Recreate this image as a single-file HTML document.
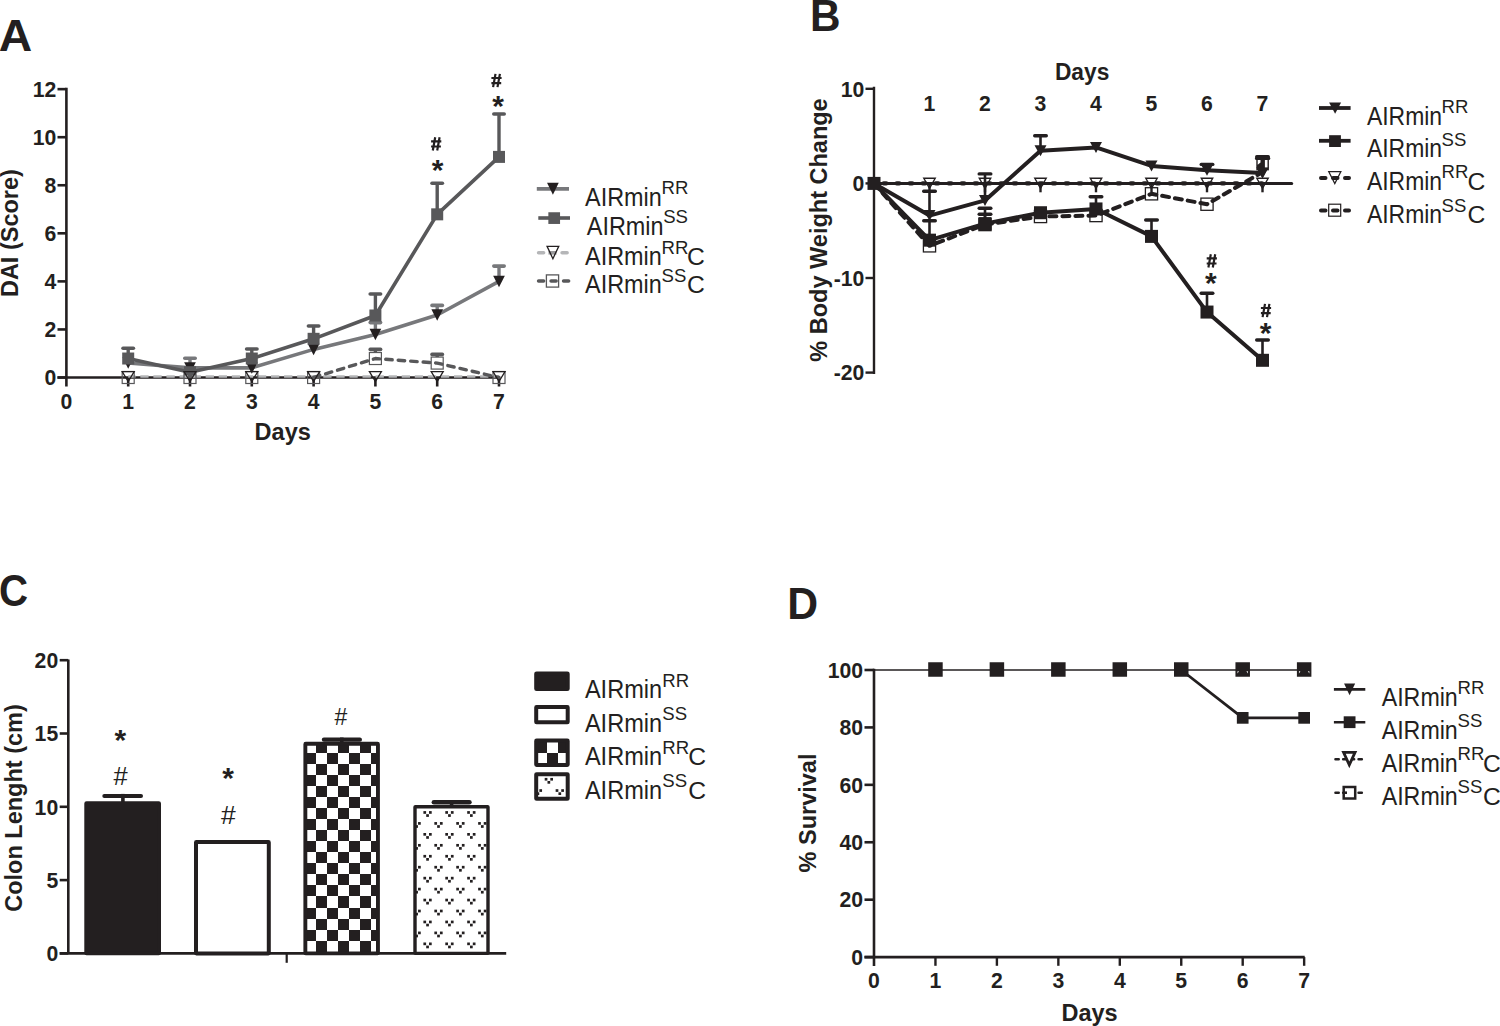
<!DOCTYPE html><html><head><meta charset="utf-8"><style>html,body{margin:0;padding:0;background:#fff;}svg{display:block;}text{font-family:"Liberation Sans",sans-serif;}</style></head><body>
<svg width="1500" height="1026" viewBox="0 0 1500 1026" font-family="Liberation Sans">
<rect width="1500" height="1026" fill="#fff"/>
<text transform="translate(-1.15,50.80) scale(1.03,1)" font-size="45" font-weight="bold" fill="#231f20">A</text>
<text transform="translate(810.05,30.80) scale(0.94,1)" font-size="45" font-weight="bold" fill="#231f20">B</text>
<text transform="translate(-1.10,606.35) scale(0.895,1)" font-size="45" font-weight="bold" fill="#231f20">C</text>
<text transform="translate(787.20,619.00) scale(0.95,1)" font-size="45" font-weight="bold" fill="#231f20">D</text>
<line x1="66.40" y1="87.80" x2="66.40" y2="386.50" stroke="#231f20" stroke-width="2.6" />
<line x1="57.50" y1="377.50" x2="66.40" y2="377.50" stroke="#231f20" stroke-width="2.6" />
<text x="56.30" y="385.20" font-size="21.2" font-weight="bold" text-anchor="end" fill="#231f20" >0</text>
<line x1="57.50" y1="329.44" x2="66.40" y2="329.44" stroke="#231f20" stroke-width="2.6" />
<text x="56.30" y="337.14" font-size="21.2" font-weight="bold" text-anchor="end" fill="#231f20" >2</text>
<line x1="57.50" y1="281.38" x2="66.40" y2="281.38" stroke="#231f20" stroke-width="2.6" />
<text x="56.30" y="289.08" font-size="21.2" font-weight="bold" text-anchor="end" fill="#231f20" >4</text>
<line x1="57.50" y1="233.32" x2="66.40" y2="233.32" stroke="#231f20" stroke-width="2.6" />
<text x="56.30" y="241.02" font-size="21.2" font-weight="bold" text-anchor="end" fill="#231f20" >6</text>
<line x1="57.50" y1="185.26" x2="66.40" y2="185.26" stroke="#231f20" stroke-width="2.6" />
<text x="56.30" y="192.96" font-size="21.2" font-weight="bold" text-anchor="end" fill="#231f20" >8</text>
<line x1="57.50" y1="137.20" x2="66.40" y2="137.20" stroke="#231f20" stroke-width="2.6" />
<text x="56.30" y="144.90" font-size="21.2" font-weight="bold" text-anchor="end" fill="#231f20" >10</text>
<line x1="57.50" y1="89.14" x2="66.40" y2="89.14" stroke="#231f20" stroke-width="2.6" />
<text x="56.30" y="96.84" font-size="21.2" font-weight="bold" text-anchor="end" fill="#231f20" >12</text>
<line x1="57.50" y1="377.50" x2="500.00" y2="377.50" stroke="#231f20" stroke-width="2.6" />
<line x1="128.20" y1="377.50" x2="128.20" y2="386.50" stroke="#231f20" stroke-width="2.6" />
<line x1="190.00" y1="377.50" x2="190.00" y2="386.50" stroke="#231f20" stroke-width="2.6" />
<line x1="251.80" y1="377.50" x2="251.80" y2="386.50" stroke="#231f20" stroke-width="2.6" />
<line x1="313.60" y1="377.50" x2="313.60" y2="386.50" stroke="#231f20" stroke-width="2.6" />
<line x1="375.40" y1="377.50" x2="375.40" y2="386.50" stroke="#231f20" stroke-width="2.6" />
<line x1="437.20" y1="377.50" x2="437.20" y2="386.50" stroke="#231f20" stroke-width="2.6" />
<line x1="499.00" y1="377.50" x2="499.00" y2="386.50" stroke="#231f20" stroke-width="2.6" />
<text x="66.40" y="409.00" font-size="21.2" font-weight="bold" text-anchor="middle" fill="#231f20" >0</text>
<text x="128.20" y="409.00" font-size="21.2" font-weight="bold" text-anchor="middle" fill="#231f20" >1</text>
<text x="190.00" y="409.00" font-size="21.2" font-weight="bold" text-anchor="middle" fill="#231f20" >2</text>
<text x="251.80" y="409.00" font-size="21.2" font-weight="bold" text-anchor="middle" fill="#231f20" >3</text>
<text x="313.60" y="409.00" font-size="21.2" font-weight="bold" text-anchor="middle" fill="#231f20" >4</text>
<text x="375.40" y="409.00" font-size="21.2" font-weight="bold" text-anchor="middle" fill="#231f20" >5</text>
<text x="437.20" y="409.00" font-size="21.2" font-weight="bold" text-anchor="middle" fill="#231f20" >6</text>
<text x="499.00" y="409.00" font-size="21.2" font-weight="bold" text-anchor="middle" fill="#231f20" >7</text>
<text x="282.70" y="440.10" font-size="23.5" font-weight="bold" text-anchor="middle" fill="#231f20" >Days</text>
<text transform="translate(17.60,233.10) rotate(-90)" font-size="23.5" font-weight="bold" text-anchor="middle" fill="#231f20">DAI (Score)</text>
<polyline points="128.20,363.08 190.00,367.89 251.80,367.89 313.60,349.38 375.40,334.49 437.20,315.02 499.00,281.38" fill="none" stroke="#77787b" stroke-width="3.6" stroke-linejoin="round" />
<line x1="190.00" y1="367.89" x2="190.00" y2="358.20" stroke="#77787b" stroke-width="3.4" />
<line x1="184.80" y1="358.20" x2="195.20" y2="358.20" stroke="#77787b" stroke-width="3.6" stroke-linecap="round"/>
<line x1="375.40" y1="334.49" x2="375.40" y2="322.60" stroke="#77787b" stroke-width="3.4" />
<line x1="370.20" y1="322.60" x2="380.60" y2="322.60" stroke="#77787b" stroke-width="3.6" stroke-linecap="round"/>
<line x1="437.20" y1="315.02" x2="437.20" y2="305.40" stroke="#77787b" stroke-width="3.4" />
<line x1="432.00" y1="305.40" x2="442.40" y2="305.40" stroke="#77787b" stroke-width="3.6" stroke-linecap="round"/>
<line x1="499.00" y1="281.38" x2="499.00" y2="266.10" stroke="#77787b" stroke-width="3.4" />
<line x1="493.80" y1="266.10" x2="504.20" y2="266.10" stroke="#77787b" stroke-width="3.6" stroke-linecap="round"/>
<polygon points="122.35,357.33 134.05,357.33 128.20,368.83" fill="#231f20" stroke="none" stroke-width="0" stroke-linejoin="miter"/>
<polygon points="184.15,362.14 195.85,362.14 190.00,373.64" fill="#231f20" stroke="none" stroke-width="0" stroke-linejoin="miter"/>
<polygon points="245.95,362.14 257.65,362.14 251.80,373.64" fill="#231f20" stroke="none" stroke-width="0" stroke-linejoin="miter"/>
<polygon points="307.75,343.63 319.45,343.63 313.60,355.13" fill="#231f20" stroke="none" stroke-width="0" stroke-linejoin="miter"/>
<polygon points="369.55,328.74 381.25,328.74 375.40,340.24" fill="#231f20" stroke="none" stroke-width="0" stroke-linejoin="miter"/>
<polygon points="431.35,309.27 443.05,309.27 437.20,320.77" fill="#231f20" stroke="none" stroke-width="0" stroke-linejoin="miter"/>
<polygon points="493.15,275.63 504.85,275.63 499.00,287.13" fill="#231f20" stroke="none" stroke-width="0" stroke-linejoin="miter"/>
<polyline points="128.20,358.52 190.00,372.21 251.80,358.52 313.60,338.81 375.40,315.50 437.20,214.34 499.00,156.90" fill="none" stroke="#58585a" stroke-width="3.6" stroke-linejoin="round" />
<line x1="128.20" y1="358.52" x2="128.20" y2="348.30" stroke="#58585a" stroke-width="3.4" />
<line x1="123.00" y1="348.30" x2="133.40" y2="348.30" stroke="#58585a" stroke-width="3.6" stroke-linecap="round"/>
<line x1="251.80" y1="358.52" x2="251.80" y2="349.00" stroke="#58585a" stroke-width="3.4" />
<line x1="246.60" y1="349.00" x2="257.00" y2="349.00" stroke="#58585a" stroke-width="3.6" stroke-linecap="round"/>
<line x1="313.60" y1="338.81" x2="313.60" y2="326.00" stroke="#58585a" stroke-width="3.4" />
<line x1="308.40" y1="326.00" x2="318.80" y2="326.00" stroke="#58585a" stroke-width="3.6" stroke-linecap="round"/>
<line x1="375.40" y1="315.50" x2="375.40" y2="294.00" stroke="#58585a" stroke-width="3.4" />
<line x1="370.20" y1="294.00" x2="380.60" y2="294.00" stroke="#58585a" stroke-width="3.6" stroke-linecap="round"/>
<line x1="437.20" y1="214.34" x2="437.20" y2="183.20" stroke="#58585a" stroke-width="3.4" />
<line x1="432.00" y1="183.20" x2="442.40" y2="183.20" stroke="#58585a" stroke-width="3.6" stroke-linecap="round"/>
<line x1="499.00" y1="156.90" x2="499.00" y2="114.00" stroke="#58585a" stroke-width="3.4" />
<line x1="493.80" y1="114.00" x2="504.20" y2="114.00" stroke="#58585a" stroke-width="3.6" stroke-linecap="round"/>
<rect x="122.20" y="352.52" width="12.00" height="12.00" fill="#58585a" stroke="none" stroke-width="0"/>
<rect x="184.00" y="366.21" width="12.00" height="12.00" fill="#58585a" stroke="none" stroke-width="0"/>
<rect x="245.80" y="352.52" width="12.00" height="12.00" fill="#58585a" stroke="none" stroke-width="0"/>
<rect x="307.60" y="332.81" width="12.00" height="12.00" fill="#58585a" stroke="none" stroke-width="0"/>
<rect x="369.40" y="309.50" width="12.00" height="12.00" fill="#58585a" stroke="none" stroke-width="0"/>
<rect x="431.20" y="208.34" width="12.00" height="12.00" fill="#58585a" stroke="none" stroke-width="0"/>
<rect x="493.00" y="150.90" width="12.00" height="12.00" fill="#58585a" stroke="none" stroke-width="0"/>
<line x1="128.20" y1="376.5" x2="499.00" y2="376.5" stroke="#b5b6b8" stroke-width="2.4" stroke-dasharray="8.3 4.77" stroke-dashoffset="0.97"/>
<polyline points="313.60,377.50 375.40,358.52 437.20,363.08 499.00,377.50" fill="none" stroke="#58585a" stroke-width="3.4" stroke-linejoin="round" stroke-dasharray="6.5 6" stroke-linecap="round"/>
<line x1="375.40" y1="352.52" x2="375.40" y2="349.40" stroke="#58585a" stroke-width="3.4" />
<line x1="370.20" y1="349.40" x2="380.60" y2="349.40" stroke="#58585a" stroke-width="3.6" stroke-linecap="round"/>
<line x1="437.20" y1="357.08" x2="437.20" y2="354.40" stroke="#58585a" stroke-width="3.4" />
<line x1="432.00" y1="354.40" x2="442.40" y2="354.40" stroke="#58585a" stroke-width="3.6" stroke-linecap="round"/>
<rect x="122.20" y="371.50" width="12.00" height="12.00" fill="none" stroke="#58585a" stroke-width="1.2"/>
<rect x="184.00" y="371.50" width="12.00" height="12.00" fill="none" stroke="#58585a" stroke-width="1.2"/>
<rect x="245.80" y="371.50" width="12.00" height="12.00" fill="none" stroke="#58585a" stroke-width="1.2"/>
<rect x="307.60" y="371.50" width="12.00" height="12.00" fill="none" stroke="#58585a" stroke-width="1.2"/>
<rect x="369.40" y="352.52" width="12.00" height="12.00" fill="none" stroke="#58585a" stroke-width="1.2"/>
<rect x="431.20" y="357.08" width="12.00" height="12.00" fill="none" stroke="#58585a" stroke-width="1.2"/>
<rect x="493.00" y="371.50" width="12.00" height="12.00" fill="none" stroke="#58585a" stroke-width="1.2"/>
<polygon points="122.20,371.60 134.20,371.60 128.20,381.60" fill="none" stroke="#231f20" stroke-width="1.3" stroke-linejoin="miter"/>
<polygon points="184.00,371.60 196.00,371.60 190.00,381.60" fill="none" stroke="#231f20" stroke-width="1.3" stroke-linejoin="miter"/>
<polygon points="245.80,371.60 257.80,371.60 251.80,381.60" fill="none" stroke="#231f20" stroke-width="1.3" stroke-linejoin="miter"/>
<polygon points="307.60,371.60 319.60,371.60 313.60,381.60" fill="none" stroke="#231f20" stroke-width="1.3" stroke-linejoin="miter"/>
<polygon points="369.40,371.60 381.40,371.60 375.40,381.60" fill="none" stroke="#231f20" stroke-width="1.3" stroke-linejoin="miter"/>
<polygon points="431.20,371.60 443.20,371.60 437.20,381.60" fill="none" stroke="#231f20" stroke-width="1.3" stroke-linejoin="miter"/>
<polygon points="493.00,371.60 505.00,371.60 499.00,381.60" fill="none" stroke="#231f20" stroke-width="1.3" stroke-linejoin="miter"/>
<path d="M435.20,137.30 L432.80,150.50 M439.60,137.30 L437.20,150.50 M431.10,141.40 H441.30 M431.10,146.50 H440.90" fill="none" stroke="#231f20" stroke-width="2.2"/>
<text x="437.60" y="179.50" font-size="30" font-weight="bold" text-anchor="middle" fill="#231f20" >*</text>
<path d="M495.50,73.90 L493.10,87.10 M499.90,73.90 L497.50,87.10 M491.40,78.00 H501.60 M491.40,83.10 H501.20" fill="none" stroke="#231f20" stroke-width="2.2"/>
<text x="498.00" y="115.50" font-size="30" font-weight="bold" text-anchor="middle" fill="#231f20" >*</text>
<line x1="536.80" y1="188.90" x2="569.00" y2="188.90" stroke="#77787b" stroke-width="3.6" />
<polygon points="547.05,182.80 558.75,182.80 552.90,194.70" fill="#231f20" stroke="none" stroke-width="0" stroke-linejoin="miter"/>
<line x1="538.30" y1="218.00" x2="570.00" y2="218.00" stroke="#58585a" stroke-width="3.6" />
<rect x="548.35" y="212.25" width="11.70" height="11.70" fill="#58585a" stroke="none" stroke-width="0"/>
<line x1="538.6" y1="252.8" x2="569" y2="252.8" stroke="#b5b6b8" stroke-width="3.6" stroke-dasharray="5 18.5" stroke-linecap="round"/>
<line x1="548.50" y1="252.80" x2="556.50" y2="252.80" stroke="#9a9a9c" stroke-width="3.6" />
<polygon points="547.05,246.30 558.75,246.30 552.90,258.70" fill="none" stroke="#231f20" stroke-width="1.3" stroke-linejoin="miter"/>
<line x1="538.6" y1="281" x2="569" y2="281" stroke="#58585a" stroke-width="3.6" stroke-dasharray="5 7.5" stroke-linecap="round"/>
<rect x="546.40" y="274.90" width="12.20" height="12.20" fill="none" stroke="#58585a" stroke-width="1.3"/>
<text transform="translate(585.10,205.80) scale(0.915,1)" font-size="25.6" fill="#231f20">AIRmin</text>
<text x="661.50" y="194.30" font-size="18.6" fill="#231f20">RR</text>
<text transform="translate(586.80,234.80) scale(0.915,1)" font-size="25.6" fill="#231f20">AIRmin</text>
<text x="663.20" y="223.30" font-size="18.6" fill="#231f20">SS</text>
<text transform="translate(585.10,265.10) scale(0.915,1)" font-size="25.6" fill="#231f20">AIRmin</text>
<text x="661.50" y="253.60" font-size="18.6" fill="#231f20">RR</text>
<text x="687.10" y="265.10" font-size="24.7" fill="#231f20">C</text>
<text transform="translate(585.10,293.30) scale(0.915,1)" font-size="25.6" fill="#231f20">AIRmin</text>
<text x="661.50" y="281.80" font-size="18.6" fill="#231f20">SS</text>
<text x="687.10" y="293.30" font-size="24.7" fill="#231f20">C</text>
<line x1="874.00" y1="86.80" x2="874.00" y2="373.90" stroke="#231f20" stroke-width="2.4" />
<line x1="865.50" y1="88.80" x2="874.00" y2="88.80" stroke="#231f20" stroke-width="2.4" />
<text x="864.30" y="96.50" font-size="21.2" font-weight="bold" text-anchor="end" fill="#231f20" >10</text>
<line x1="865.50" y1="183.40" x2="874.00" y2="183.40" stroke="#231f20" stroke-width="2.4" />
<text x="864.30" y="191.10" font-size="21.2" font-weight="bold" text-anchor="end" fill="#231f20" >0</text>
<line x1="865.50" y1="278.00" x2="874.00" y2="278.00" stroke="#231f20" stroke-width="2.4" />
<text x="864.30" y="285.70" font-size="21.2" font-weight="bold" text-anchor="end" fill="#231f20" >-10</text>
<line x1="865.50" y1="372.60" x2="874.00" y2="372.60" stroke="#231f20" stroke-width="2.4" />
<text x="864.30" y="380.30" font-size="21.2" font-weight="bold" text-anchor="end" fill="#231f20" >-20</text>
<line x1="874.00" y1="183.40" x2="1291.70" y2="183.40" stroke="#231f20" stroke-width="3.0" stroke-linecap="round"/>
<line x1="929.50" y1="183.40" x2="929.50" y2="192.30" stroke="#231f20" stroke-width="2.4" />
<text x="929.50" y="110.90" font-size="21.2" font-weight="bold" text-anchor="middle" fill="#231f20" >1</text>
<line x1="985.00" y1="183.40" x2="985.00" y2="192.30" stroke="#231f20" stroke-width="2.4" />
<text x="985.00" y="110.90" font-size="21.2" font-weight="bold" text-anchor="middle" fill="#231f20" >2</text>
<line x1="1040.50" y1="183.40" x2="1040.50" y2="192.30" stroke="#231f20" stroke-width="2.4" />
<text x="1040.50" y="110.90" font-size="21.2" font-weight="bold" text-anchor="middle" fill="#231f20" >3</text>
<line x1="1096.00" y1="183.40" x2="1096.00" y2="192.30" stroke="#231f20" stroke-width="2.4" />
<text x="1096.00" y="110.90" font-size="21.2" font-weight="bold" text-anchor="middle" fill="#231f20" >4</text>
<line x1="1151.50" y1="183.40" x2="1151.50" y2="192.30" stroke="#231f20" stroke-width="2.4" />
<text x="1151.50" y="110.90" font-size="21.2" font-weight="bold" text-anchor="middle" fill="#231f20" >5</text>
<line x1="1207.00" y1="183.40" x2="1207.00" y2="192.30" stroke="#231f20" stroke-width="2.4" />
<text x="1207.00" y="110.90" font-size="21.2" font-weight="bold" text-anchor="middle" fill="#231f20" >6</text>
<line x1="1262.50" y1="183.40" x2="1262.50" y2="192.30" stroke="#231f20" stroke-width="2.4" />
<text x="1262.50" y="110.90" font-size="21.2" font-weight="bold" text-anchor="middle" fill="#231f20" >7</text>
<text transform="translate(1082.1,79.7) scale(0.94,1)" font-size="24.2" font-weight="bold" text-anchor="middle" fill="#231f20">Days</text>
<text transform="translate(827.00,230.00) rotate(-90)" font-size="23.5" font-weight="bold" text-anchor="middle" fill="#231f20">% Body Weight Change</text>
<polyline points="874.00,183.40 929.50,245.84 985.00,224.55 1040.50,216.51 1096.00,215.56 1151.50,193.81 1207.00,204.21 1262.50,172.05" fill="none" stroke="#231f20" stroke-width="4.0" stroke-linejoin="round" stroke-dasharray="7 6" stroke-linecap="round"/>
<line x1="870.7" y1="183.4" x2="1262" y2="183.4" stroke="#231f20" stroke-width="4.2" stroke-dasharray="2.6 10.4" stroke-linecap="round"/>
<line x1="985.00" y1="224.55" x2="985.00" y2="214.30" stroke="#231f20" stroke-width="2.6" />
<line x1="979.20" y1="214.30" x2="990.80" y2="214.30" stroke="#231f20" stroke-width="3.4" stroke-linecap="round"/>
<line x1="1262.50" y1="172.05" x2="1262.50" y2="156.70" stroke="#231f20" stroke-width="2.6" />
<line x1="1256.70" y1="156.70" x2="1268.30" y2="156.70" stroke="#231f20" stroke-width="3.4" stroke-linecap="round"/>
<rect x="923.40" y="239.74" width="12.20" height="12.20" fill="none" stroke="#231f20" stroke-width="1.3"/>
<rect x="978.90" y="218.45" width="12.20" height="12.20" fill="none" stroke="#231f20" stroke-width="1.3"/>
<rect x="1034.40" y="210.41" width="12.20" height="12.20" fill="none" stroke="#231f20" stroke-width="1.3"/>
<rect x="1089.90" y="209.46" width="12.20" height="12.20" fill="none" stroke="#231f20" stroke-width="1.3"/>
<rect x="1145.40" y="187.71" width="12.20" height="12.20" fill="none" stroke="#231f20" stroke-width="1.3"/>
<rect x="1200.90" y="198.11" width="12.20" height="12.20" fill="none" stroke="#231f20" stroke-width="1.3"/>
<polyline points="874.00,183.40 929.50,215.56 985.00,200.43 1040.50,150.76 1096.00,147.45 1151.50,165.90 1207.00,170.16 1262.50,172.99" fill="none" stroke="#231f20" stroke-width="4.0" stroke-linejoin="round" />
<line x1="929.50" y1="215.56" x2="929.50" y2="191.20" stroke="#231f20" stroke-width="2.6" />
<line x1="923.70" y1="191.20" x2="935.30" y2="191.20" stroke="#231f20" stroke-width="3.4" stroke-linecap="round"/>
<line x1="985.00" y1="200.43" x2="985.00" y2="173.90" stroke="#231f20" stroke-width="2.6" />
<line x1="979.20" y1="173.90" x2="990.80" y2="173.90" stroke="#231f20" stroke-width="3.4" stroke-linecap="round"/>
<line x1="1040.50" y1="150.76" x2="1040.50" y2="135.80" stroke="#231f20" stroke-width="2.6" />
<line x1="1034.70" y1="135.80" x2="1046.30" y2="135.80" stroke="#231f20" stroke-width="3.4" stroke-linecap="round"/>
<line x1="1207.00" y1="170.16" x2="1207.00" y2="164.40" stroke="#231f20" stroke-width="2.6" />
<line x1="1201.20" y1="164.40" x2="1212.80" y2="164.40" stroke="#231f20" stroke-width="3.4" stroke-linecap="round"/>
<polygon points="923.50,210.06 935.50,210.06 929.50,221.06" fill="#231f20" stroke="none" stroke-width="0" stroke-linejoin="miter"/>
<polygon points="979.00,194.93 991.00,194.93 985.00,205.93" fill="#231f20" stroke="none" stroke-width="0" stroke-linejoin="miter"/>
<polygon points="1034.50,145.26 1046.50,145.26 1040.50,156.26" fill="#231f20" stroke="none" stroke-width="0" stroke-linejoin="miter"/>
<polygon points="1090.00,141.95 1102.00,141.95 1096.00,152.95" fill="#231f20" stroke="none" stroke-width="0" stroke-linejoin="miter"/>
<polygon points="1145.50,160.40 1157.50,160.40 1151.50,171.40" fill="#231f20" stroke="none" stroke-width="0" stroke-linejoin="miter"/>
<polygon points="1201.00,164.66 1213.00,164.66 1207.00,175.66" fill="#231f20" stroke="none" stroke-width="0" stroke-linejoin="miter"/>
<polygon points="1256.50,167.49 1268.50,167.49 1262.50,178.49" fill="#231f20" stroke="none" stroke-width="0" stroke-linejoin="miter"/>
<polyline points="874.00,183.40 929.50,240.16 985.00,223.61 1040.50,212.73 1096.00,208.94 1151.50,236.38 1207.00,312.06 1262.50,360.30" fill="none" stroke="#231f20" stroke-width="4.0" stroke-linejoin="round" />
<line x1="929.50" y1="240.16" x2="929.50" y2="220.70" stroke="#231f20" stroke-width="2.6" />
<line x1="923.70" y1="220.70" x2="935.30" y2="220.70" stroke="#231f20" stroke-width="3.4" stroke-linecap="round"/>
<line x1="985.00" y1="223.61" x2="985.00" y2="208.30" stroke="#231f20" stroke-width="2.6" />
<line x1="979.20" y1="208.30" x2="990.80" y2="208.30" stroke="#231f20" stroke-width="3.4" stroke-linecap="round"/>
<line x1="1096.00" y1="208.94" x2="1096.00" y2="196.70" stroke="#231f20" stroke-width="2.6" />
<line x1="1090.20" y1="196.70" x2="1101.80" y2="196.70" stroke="#231f20" stroke-width="3.4" stroke-linecap="round"/>
<line x1="1151.50" y1="236.38" x2="1151.50" y2="220.00" stroke="#231f20" stroke-width="2.6" />
<line x1="1145.70" y1="220.00" x2="1157.30" y2="220.00" stroke="#231f20" stroke-width="3.4" stroke-linecap="round"/>
<line x1="1207.00" y1="312.06" x2="1207.00" y2="293.30" stroke="#231f20" stroke-width="2.6" />
<line x1="1201.20" y1="293.30" x2="1212.80" y2="293.30" stroke="#231f20" stroke-width="3.4" stroke-linecap="round"/>
<line x1="1262.50" y1="360.30" x2="1262.50" y2="340.00" stroke="#231f20" stroke-width="2.6" />
<line x1="1256.70" y1="340.00" x2="1268.30" y2="340.00" stroke="#231f20" stroke-width="3.4" stroke-linecap="round"/>
<rect x="867.50" y="176.90" width="13.00" height="13.00" fill="#231f20" stroke="none" stroke-width="0"/>
<rect x="923.00" y="233.66" width="13.00" height="13.00" fill="#231f20" stroke="none" stroke-width="0"/>
<rect x="978.50" y="217.11" width="13.00" height="13.00" fill="#231f20" stroke="none" stroke-width="0"/>
<rect x="1034.00" y="206.23" width="13.00" height="13.00" fill="#231f20" stroke="none" stroke-width="0"/>
<rect x="1089.50" y="202.44" width="13.00" height="13.00" fill="#231f20" stroke="none" stroke-width="0"/>
<rect x="1145.00" y="229.88" width="13.00" height="13.00" fill="#231f20" stroke="none" stroke-width="0"/>
<rect x="1200.50" y="305.56" width="13.00" height="13.00" fill="#231f20" stroke="none" stroke-width="0"/>
<rect x="1256.00" y="353.80" width="13.00" height="13.00" fill="#231f20" stroke="none" stroke-width="0"/>
<rect x="1256.3" y="157.0" width="12.6" height="13.4" fill="#231f20"/>
<path d="M1257.7,159.4 h2.8 v3.2 l-2.8,2.2 z" fill="#fff"/>
<rect x="1264.9" y="159.4" width="2.6" height="8.4" fill="#fff"/>
<line x1="1256.50" y1="158.40" x2="1268.70" y2="158.40" stroke="#231f20" stroke-width="3.2" stroke-linecap="round"/>
<polygon points="1256.50,167.49 1268.50,167.49 1262.50,178.49" fill="#231f20" stroke="none" stroke-width="0" stroke-linejoin="miter"/>
<polygon points="923.80,178.30 935.20,178.30 929.50,188.30" fill="none" stroke="#231f20" stroke-width="1.4" stroke-linejoin="miter"/>
<polygon points="979.30,178.30 990.70,178.30 985.00,188.30" fill="none" stroke="#231f20" stroke-width="1.4" stroke-linejoin="miter"/>
<polygon points="1034.80,178.30 1046.20,178.30 1040.50,188.30" fill="none" stroke="#231f20" stroke-width="1.4" stroke-linejoin="miter"/>
<polygon points="1090.30,178.30 1101.70,178.30 1096.00,188.30" fill="none" stroke="#231f20" stroke-width="1.4" stroke-linejoin="miter"/>
<polygon points="1145.80,178.30 1157.20,178.30 1151.50,188.30" fill="none" stroke="#231f20" stroke-width="1.4" stroke-linejoin="miter"/>
<polygon points="1201.30,178.30 1212.70,178.30 1207.00,188.30" fill="none" stroke="#231f20" stroke-width="1.4" stroke-linejoin="miter"/>
<polygon points="1256.80,178.30 1268.20,178.30 1262.50,188.30" fill="none" stroke="#231f20" stroke-width="1.4" stroke-linejoin="miter"/>
<path d="M1210.80,254.30 L1208.40,267.50 M1215.20,254.30 L1212.80,267.50 M1206.70,258.40 H1216.90 M1206.70,263.50 H1216.50" fill="none" stroke="#231f20" stroke-width="2.2"/>
<text x="1210.80" y="293.00" font-size="30" font-weight="bold" text-anchor="middle" fill="#231f20" >*</text>
<path d="M1265.00,303.90 L1262.60,317.10 M1269.40,303.90 L1267.00,317.10 M1260.90,308.00 H1271.10 M1260.90,313.10 H1270.70" fill="none" stroke="#231f20" stroke-width="2.2"/>
<text x="1265.50" y="343.00" font-size="30" font-weight="bold" text-anchor="middle" fill="#231f20" >*</text>
<line x1="1319.00" y1="108.00" x2="1350.60" y2="108.00" stroke="#231f20" stroke-width="3.8" />
<polygon points="1329.10,102.55 1341.10,102.55 1335.10,113.65" fill="#231f20" stroke="none" stroke-width="0" stroke-linejoin="miter"/>
<line x1="1319.00" y1="140.80" x2="1350.60" y2="140.80" stroke="#231f20" stroke-width="3.8" />
<rect x="1329.10" y="135.20" width="11.80" height="11.80" fill="#231f20" stroke="none" stroke-width="0"/>
<line x1="1321" y1="177.9" x2="1349" y2="177.9" stroke="#231f20" stroke-width="4" stroke-dasharray="4.5 7.5" stroke-linecap="round"/>
<polygon points="1328.70,171.60 1340.90,171.60 1334.80,183.60" fill="none" stroke="#231f20" stroke-width="1.2" stroke-linejoin="miter"/>
<line x1="1321" y1="210.4" x2="1349" y2="210.4" stroke="#231f20" stroke-width="4" stroke-dasharray="4.5 7.5" stroke-linecap="round"/>
<rect x="1328.70" y="204.20" width="12.00" height="12.00" fill="none" stroke="#231f20" stroke-width="1.2"/>
<text transform="translate(1366.90,124.90) scale(0.897,1)" font-size="25.6" fill="#231f20">AIRmin</text>
<text x="1441.50" y="113.40" font-size="18.6" fill="#231f20">RR</text>
<text transform="translate(1366.90,157.00) scale(0.897,1)" font-size="25.6" fill="#231f20">AIRmin</text>
<text x="1441.50" y="145.50" font-size="18.6" fill="#231f20">SS</text>
<text transform="translate(1366.90,189.90) scale(0.897,1)" font-size="25.6" fill="#231f20">AIRmin</text>
<text x="1441.50" y="178.40" font-size="18.6" fill="#231f20">RR</text>
<text x="1467.50" y="189.90" font-size="24.7" fill="#231f20">C</text>
<text transform="translate(1366.90,223.00) scale(0.897,1)" font-size="25.6" fill="#231f20">AIRmin</text>
<text x="1441.50" y="211.50" font-size="18.6" fill="#231f20">SS</text>
<text x="1467.50" y="223.00" font-size="24.7" fill="#231f20">C</text>
<line x1="68.30" y1="659.60" x2="68.30" y2="953.40" stroke="#231f20" stroke-width="2.6" />
<line x1="59.70" y1="953.40" x2="68.30" y2="953.40" stroke="#231f20" stroke-width="2.6" />
<text x="58.20" y="961.10" font-size="21.2" font-weight="bold" text-anchor="end" fill="#231f20" >0</text>
<line x1="59.70" y1="880.10" x2="68.30" y2="880.10" stroke="#231f20" stroke-width="2.6" />
<text x="58.20" y="887.80" font-size="21.2" font-weight="bold" text-anchor="end" fill="#231f20" >5</text>
<line x1="59.70" y1="806.80" x2="68.30" y2="806.80" stroke="#231f20" stroke-width="2.6" />
<text x="58.20" y="814.50" font-size="21.2" font-weight="bold" text-anchor="end" fill="#231f20" >10</text>
<line x1="59.70" y1="733.50" x2="68.30" y2="733.50" stroke="#231f20" stroke-width="2.6" />
<text x="58.20" y="741.20" font-size="21.2" font-weight="bold" text-anchor="end" fill="#231f20" >15</text>
<line x1="59.70" y1="660.20" x2="68.30" y2="660.20" stroke="#231f20" stroke-width="2.6" />
<text x="58.20" y="667.90" font-size="21.2" font-weight="bold" text-anchor="end" fill="#231f20" >20</text>
<line x1="59.70" y1="953.40" x2="506.20" y2="953.40" stroke="#231f20" stroke-width="2.6" stroke-linecap="butt"/>
<line x1="286.70" y1="953.40" x2="286.70" y2="962.80" stroke="#231f20" stroke-width="2.2" />
<text transform="translate(21.60,808.00) rotate(-90)" font-size="23.5" font-weight="bold" text-anchor="middle" fill="#231f20">Colon Lenght (cm)</text>
<defs><pattern id="chk" patternUnits="userSpaceOnUse" x="315.9" y="752.8" width="22.1" height="22.14"><rect x="11.05" y="0" width="11.05" height="11.07" fill="#231f20"/><rect x="0" y="11.07" width="11.05" height="11.07" fill="#231f20"/></pattern><pattern id="chk2" patternUnits="userSpaceOnUse" x="535.95" y="731.0" width="22.1" height="22.1"><rect x="11.05" y="0" width="11.05" height="11.05" fill="#231f20"/><rect x="0" y="11.05" width="11.05" height="11.05" fill="#231f20"/></pattern><pattern id="vee" patternUnits="userSpaceOnUse" x="423.4" y="811.1" width="21.9" height="21.9"><g fill="#231f20"><rect x="0" y="0" width="2.7" height="2.7"/><rect x="5.6" y="0" width="2.7" height="2.7"/><rect x="2.8" y="3.1" width="2.7" height="2.7"/><rect x="10.95" y="10.95" width="2.7" height="2.7"/><rect x="16.55" y="10.95" width="2.7" height="2.7"/><rect x="13.75" y="14.05" width="2.7" height="2.7"/></g></pattern><pattern id="vee2" patternUnits="userSpaceOnUse" x="544.7" y="777.9" width="21.9" height="22.6"><g fill="#231f20"><rect x="0" y="0" width="2.7" height="2.7"/><rect x="5.6" y="0" width="2.7" height="2.7"/><rect x="2.8" y="3.1" width="2.7" height="2.7"/><rect x="10.95" y="11.3" width="2.7" height="2.7"/><rect x="16.55" y="11.3" width="2.7" height="2.7"/><rect x="13.75" y="14.4" width="2.7" height="2.7"/></g></pattern></defs>
<rect x="86.15" y="803.05" width="73.00" height="150.35" fill="#231f20" stroke="#231f20" stroke-width="3.7" rx="0.4"/>
<line x1="122.90" y1="802.00" x2="122.90" y2="793.90" stroke="#231f20" stroke-width="3.6" />
<line x1="104.30" y1="795.90" x2="141.00" y2="795.90" stroke="#231f20" stroke-width="4.0" stroke-linecap="round"/>
<rect x="196.00" y="842.10" width="72.80" height="111.30" fill="#fff" stroke="#231f20" stroke-width="4.0" rx="0.4"/>
<g fill="#231f20" shape-rendering="crispEdges"><rect x="315.90" y="743.70" width="11.05" height="9.10"/><rect x="338.00" y="743.70" width="11.05" height="9.10"/><rect x="360.10" y="743.70" width="11.05" height="9.10"/><rect x="305.30" y="752.80" width="10.60" height="11.05"/><rect x="326.95" y="752.80" width="11.05" height="11.05"/><rect x="349.05" y="752.80" width="11.05" height="11.05"/><rect x="371.15" y="752.80" width="6.85" height="11.05"/><rect x="315.90" y="763.85" width="11.05" height="11.05"/><rect x="338.00" y="763.85" width="11.05" height="11.05"/><rect x="360.10" y="763.85" width="11.05" height="11.05"/><rect x="305.30" y="774.90" width="10.60" height="11.05"/><rect x="326.95" y="774.90" width="11.05" height="11.05"/><rect x="349.05" y="774.90" width="11.05" height="11.05"/><rect x="371.15" y="774.90" width="6.85" height="11.05"/><rect x="315.90" y="785.95" width="11.05" height="11.05"/><rect x="338.00" y="785.95" width="11.05" height="11.05"/><rect x="360.10" y="785.95" width="11.05" height="11.05"/><rect x="305.30" y="797.00" width="10.60" height="11.05"/><rect x="326.95" y="797.00" width="11.05" height="11.05"/><rect x="349.05" y="797.00" width="11.05" height="11.05"/><rect x="371.15" y="797.00" width="6.85" height="11.05"/><rect x="315.90" y="808.05" width="11.05" height="11.05"/><rect x="338.00" y="808.05" width="11.05" height="11.05"/><rect x="360.10" y="808.05" width="11.05" height="11.05"/><rect x="305.30" y="819.10" width="10.60" height="11.05"/><rect x="326.95" y="819.10" width="11.05" height="11.05"/><rect x="349.05" y="819.10" width="11.05" height="11.05"/><rect x="371.15" y="819.10" width="6.85" height="11.05"/><rect x="315.90" y="830.15" width="11.05" height="11.05"/><rect x="338.00" y="830.15" width="11.05" height="11.05"/><rect x="360.10" y="830.15" width="11.05" height="11.05"/><rect x="305.30" y="841.20" width="10.60" height="11.05"/><rect x="326.95" y="841.20" width="11.05" height="11.05"/><rect x="349.05" y="841.20" width="11.05" height="11.05"/><rect x="371.15" y="841.20" width="6.85" height="11.05"/><rect x="315.90" y="852.25" width="11.05" height="11.05"/><rect x="338.00" y="852.25" width="11.05" height="11.05"/><rect x="360.10" y="852.25" width="11.05" height="11.05"/><rect x="305.30" y="863.30" width="10.60" height="11.05"/><rect x="326.95" y="863.30" width="11.05" height="11.05"/><rect x="349.05" y="863.30" width="11.05" height="11.05"/><rect x="371.15" y="863.30" width="6.85" height="11.05"/><rect x="315.90" y="874.35" width="11.05" height="11.05"/><rect x="338.00" y="874.35" width="11.05" height="11.05"/><rect x="360.10" y="874.35" width="11.05" height="11.05"/><rect x="305.30" y="885.40" width="10.60" height="11.05"/><rect x="326.95" y="885.40" width="11.05" height="11.05"/><rect x="349.05" y="885.40" width="11.05" height="11.05"/><rect x="371.15" y="885.40" width="6.85" height="11.05"/><rect x="315.90" y="896.45" width="11.05" height="11.05"/><rect x="338.00" y="896.45" width="11.05" height="11.05"/><rect x="360.10" y="896.45" width="11.05" height="11.05"/><rect x="305.30" y="907.50" width="10.60" height="11.05"/><rect x="326.95" y="907.50" width="11.05" height="11.05"/><rect x="349.05" y="907.50" width="11.05" height="11.05"/><rect x="371.15" y="907.50" width="6.85" height="11.05"/><rect x="315.90" y="918.55" width="11.05" height="11.05"/><rect x="338.00" y="918.55" width="11.05" height="11.05"/><rect x="360.10" y="918.55" width="11.05" height="11.05"/><rect x="305.30" y="929.60" width="10.60" height="11.05"/><rect x="326.95" y="929.60" width="11.05" height="11.05"/><rect x="349.05" y="929.60" width="11.05" height="11.05"/><rect x="371.15" y="929.60" width="6.85" height="11.05"/><rect x="315.90" y="940.65" width="11.05" height="11.05"/><rect x="338.00" y="940.65" width="11.05" height="11.05"/><rect x="360.10" y="940.65" width="11.05" height="11.05"/><rect x="305.30" y="951.70" width="10.60" height="1.70"/><rect x="326.95" y="951.70" width="11.05" height="1.70"/><rect x="349.05" y="951.70" width="11.05" height="1.70"/><rect x="371.15" y="951.70" width="6.85" height="1.70"/></g>
<rect x="305.35" y="743.75" width="72.60" height="209.65" fill="none" stroke="#231f20" stroke-width="3.9" rx="0.4"/>
<line x1="341.80" y1="742.00" x2="341.80" y2="737.50" stroke="#231f20" stroke-width="3.6" />
<line x1="323.95" y1="739.65" x2="359.85" y2="739.65" stroke="#231f20" stroke-width="4.3" stroke-linecap="round"/>
<g fill="#231f20"><rect x="423.40" y="811.10" width="2.70" height="2.70"/><rect x="429.00" y="811.10" width="2.70" height="2.70"/><rect x="426.20" y="814.20" width="2.70" height="2.70"/><rect x="445.30" y="811.10" width="2.70" height="2.70"/><rect x="450.90" y="811.10" width="2.70" height="2.70"/><rect x="448.10" y="814.20" width="2.70" height="2.70"/><rect x="467.20" y="811.10" width="2.70" height="2.70"/><rect x="472.80" y="811.10" width="2.70" height="2.70"/><rect x="470.00" y="814.20" width="2.70" height="2.70"/><rect x="423.40" y="833.00" width="2.70" height="2.70"/><rect x="429.00" y="833.00" width="2.70" height="2.70"/><rect x="426.20" y="836.10" width="2.70" height="2.70"/><rect x="445.30" y="833.00" width="2.70" height="2.70"/><rect x="450.90" y="833.00" width="2.70" height="2.70"/><rect x="448.10" y="836.10" width="2.70" height="2.70"/><rect x="467.20" y="833.00" width="2.70" height="2.70"/><rect x="472.80" y="833.00" width="2.70" height="2.70"/><rect x="470.00" y="836.10" width="2.70" height="2.70"/><rect x="423.40" y="854.90" width="2.70" height="2.70"/><rect x="429.00" y="854.90" width="2.70" height="2.70"/><rect x="426.20" y="858.00" width="2.70" height="2.70"/><rect x="445.30" y="854.90" width="2.70" height="2.70"/><rect x="450.90" y="854.90" width="2.70" height="2.70"/><rect x="448.10" y="858.00" width="2.70" height="2.70"/><rect x="467.20" y="854.90" width="2.70" height="2.70"/><rect x="472.80" y="854.90" width="2.70" height="2.70"/><rect x="470.00" y="858.00" width="2.70" height="2.70"/><rect x="423.40" y="876.80" width="2.70" height="2.70"/><rect x="429.00" y="876.80" width="2.70" height="2.70"/><rect x="426.20" y="879.90" width="2.70" height="2.70"/><rect x="445.30" y="876.80" width="2.70" height="2.70"/><rect x="450.90" y="876.80" width="2.70" height="2.70"/><rect x="448.10" y="879.90" width="2.70" height="2.70"/><rect x="467.20" y="876.80" width="2.70" height="2.70"/><rect x="472.80" y="876.80" width="2.70" height="2.70"/><rect x="470.00" y="879.90" width="2.70" height="2.70"/><rect x="423.40" y="898.70" width="2.70" height="2.70"/><rect x="429.00" y="898.70" width="2.70" height="2.70"/><rect x="426.20" y="901.80" width="2.70" height="2.70"/><rect x="445.30" y="898.70" width="2.70" height="2.70"/><rect x="450.90" y="898.70" width="2.70" height="2.70"/><rect x="448.10" y="901.80" width="2.70" height="2.70"/><rect x="467.20" y="898.70" width="2.70" height="2.70"/><rect x="472.80" y="898.70" width="2.70" height="2.70"/><rect x="470.00" y="901.80" width="2.70" height="2.70"/><rect x="423.40" y="920.60" width="2.70" height="2.70"/><rect x="429.00" y="920.60" width="2.70" height="2.70"/><rect x="426.20" y="923.70" width="2.70" height="2.70"/><rect x="445.30" y="920.60" width="2.70" height="2.70"/><rect x="450.90" y="920.60" width="2.70" height="2.70"/><rect x="448.10" y="923.70" width="2.70" height="2.70"/><rect x="467.20" y="920.60" width="2.70" height="2.70"/><rect x="472.80" y="920.60" width="2.70" height="2.70"/><rect x="470.00" y="923.70" width="2.70" height="2.70"/><rect x="423.40" y="942.50" width="2.70" height="2.70"/><rect x="429.00" y="942.50" width="2.70" height="2.70"/><rect x="426.20" y="945.60" width="2.70" height="2.70"/><rect x="445.30" y="942.50" width="2.70" height="2.70"/><rect x="450.90" y="942.50" width="2.70" height="2.70"/><rect x="448.10" y="945.60" width="2.70" height="2.70"/><rect x="467.20" y="942.50" width="2.70" height="2.70"/><rect x="472.80" y="942.50" width="2.70" height="2.70"/><rect x="470.00" y="945.60" width="2.70" height="2.70"/><rect x="415.00" y="822.05" width="0.15" height="2.70"/><rect x="418.05" y="822.05" width="2.70" height="2.70"/><rect x="415.25" y="825.15" width="2.70" height="2.70"/><rect x="434.35" y="822.05" width="2.70" height="2.70"/><rect x="439.95" y="822.05" width="2.70" height="2.70"/><rect x="437.15" y="825.15" width="2.70" height="2.70"/><rect x="456.25" y="822.05" width="2.70" height="2.70"/><rect x="461.85" y="822.05" width="2.70" height="2.70"/><rect x="459.05" y="825.15" width="2.70" height="2.70"/><rect x="478.15" y="822.05" width="2.70" height="2.70"/><rect x="483.75" y="822.05" width="2.70" height="2.70"/><rect x="480.95" y="825.15" width="2.70" height="2.70"/><rect x="415.00" y="843.95" width="0.15" height="2.70"/><rect x="418.05" y="843.95" width="2.70" height="2.70"/><rect x="415.25" y="847.05" width="2.70" height="2.70"/><rect x="434.35" y="843.95" width="2.70" height="2.70"/><rect x="439.95" y="843.95" width="2.70" height="2.70"/><rect x="437.15" y="847.05" width="2.70" height="2.70"/><rect x="456.25" y="843.95" width="2.70" height="2.70"/><rect x="461.85" y="843.95" width="2.70" height="2.70"/><rect x="459.05" y="847.05" width="2.70" height="2.70"/><rect x="478.15" y="843.95" width="2.70" height="2.70"/><rect x="483.75" y="843.95" width="2.70" height="2.70"/><rect x="480.95" y="847.05" width="2.70" height="2.70"/><rect x="415.00" y="865.85" width="0.15" height="2.70"/><rect x="418.05" y="865.85" width="2.70" height="2.70"/><rect x="415.25" y="868.95" width="2.70" height="2.70"/><rect x="434.35" y="865.85" width="2.70" height="2.70"/><rect x="439.95" y="865.85" width="2.70" height="2.70"/><rect x="437.15" y="868.95" width="2.70" height="2.70"/><rect x="456.25" y="865.85" width="2.70" height="2.70"/><rect x="461.85" y="865.85" width="2.70" height="2.70"/><rect x="459.05" y="868.95" width="2.70" height="2.70"/><rect x="478.15" y="865.85" width="2.70" height="2.70"/><rect x="483.75" y="865.85" width="2.70" height="2.70"/><rect x="480.95" y="868.95" width="2.70" height="2.70"/><rect x="415.00" y="887.75" width="0.15" height="2.70"/><rect x="418.05" y="887.75" width="2.70" height="2.70"/><rect x="415.25" y="890.85" width="2.70" height="2.70"/><rect x="434.35" y="887.75" width="2.70" height="2.70"/><rect x="439.95" y="887.75" width="2.70" height="2.70"/><rect x="437.15" y="890.85" width="2.70" height="2.70"/><rect x="456.25" y="887.75" width="2.70" height="2.70"/><rect x="461.85" y="887.75" width="2.70" height="2.70"/><rect x="459.05" y="890.85" width="2.70" height="2.70"/><rect x="478.15" y="887.75" width="2.70" height="2.70"/><rect x="483.75" y="887.75" width="2.70" height="2.70"/><rect x="480.95" y="890.85" width="2.70" height="2.70"/><rect x="415.00" y="909.65" width="0.15" height="2.70"/><rect x="418.05" y="909.65" width="2.70" height="2.70"/><rect x="415.25" y="912.75" width="2.70" height="2.70"/><rect x="434.35" y="909.65" width="2.70" height="2.70"/><rect x="439.95" y="909.65" width="2.70" height="2.70"/><rect x="437.15" y="912.75" width="2.70" height="2.70"/><rect x="456.25" y="909.65" width="2.70" height="2.70"/><rect x="461.85" y="909.65" width="2.70" height="2.70"/><rect x="459.05" y="912.75" width="2.70" height="2.70"/><rect x="478.15" y="909.65" width="2.70" height="2.70"/><rect x="483.75" y="909.65" width="2.70" height="2.70"/><rect x="480.95" y="912.75" width="2.70" height="2.70"/><rect x="415.00" y="931.55" width="0.15" height="2.70"/><rect x="418.05" y="931.55" width="2.70" height="2.70"/><rect x="415.25" y="934.65" width="2.70" height="2.70"/><rect x="434.35" y="931.55" width="2.70" height="2.70"/><rect x="439.95" y="931.55" width="2.70" height="2.70"/><rect x="437.15" y="934.65" width="2.70" height="2.70"/><rect x="456.25" y="931.55" width="2.70" height="2.70"/><rect x="461.85" y="931.55" width="2.70" height="2.70"/><rect x="459.05" y="934.65" width="2.70" height="2.70"/><rect x="478.15" y="931.55" width="2.70" height="2.70"/><rect x="483.75" y="931.55" width="2.70" height="2.70"/><rect x="480.95" y="934.65" width="2.70" height="2.70"/></g>
<rect x="415.00" y="806.70" width="73.00" height="146.70" fill="none" stroke="#231f20" stroke-width="3.4" rx="0.4"/>
<line x1="451.60" y1="806.00" x2="451.60" y2="800.00" stroke="#231f20" stroke-width="3.6" />
<line x1="433.90" y1="802.30" x2="469.40" y2="802.30" stroke="#231f20" stroke-width="4.6" stroke-linecap="round"/>
<text x="120.30" y="749.50" font-size="30" font-weight="bold" text-anchor="middle" fill="#231f20" >*</text>
<text x="120.60" y="784.80" font-size="25.5" font-weight="normal" text-anchor="middle" fill="#231f20" >#</text>
<text x="228.00" y="788.00" font-size="30" font-weight="bold" text-anchor="middle" fill="#231f20" >*</text>
<text x="228.30" y="823.80" font-size="26.5" font-weight="normal" text-anchor="middle" fill="#231f20" >#</text>
<text x="341.00" y="725.40" font-size="23" font-weight="normal" text-anchor="middle" fill="#231f20" >#</text>
<rect x="536.20" y="673.40" width="31.50" height="15.70" fill="#231f20" stroke="#231f20" stroke-width="4.0" rx="0.4"/>
<rect x="536.20" y="707.00" width="31.50" height="15.30" fill="#fff" stroke="#231f20" stroke-width="4.0" rx="0.4"/>
<g fill="#231f20" shape-rendering="crispEdges"><rect x="547.00" y="740.50" width="11.05" height="1.55"/><rect x="536.20" y="742.05" width="10.80" height="11.05"/><rect x="558.05" y="742.05" width="9.65" height="11.05"/><rect x="547.00" y="753.10" width="11.05" height="11.05"/><rect x="536.20" y="764.15" width="10.80" height="0.85"/><rect x="558.05" y="764.15" width="9.65" height="0.85"/></g>
<rect x="536.20" y="740.50" width="31.50" height="24.50" fill="none" stroke="#231f20" stroke-width="4.0" rx="0.4"/>
<g fill="#231f20"><rect x="544.70" y="777.90" width="2.70" height="2.70"/><rect x="550.30" y="777.90" width="2.70" height="2.70"/><rect x="547.50" y="781.00" width="2.70" height="2.70"/><rect x="566.60" y="777.90" width="1.10" height="2.70"/><rect x="536.20" y="789.20" width="0.25" height="2.70"/><rect x="539.35" y="789.20" width="2.70" height="2.70"/><rect x="536.55" y="792.30" width="2.70" height="2.70"/><rect x="555.65" y="789.20" width="2.70" height="2.70"/><rect x="561.25" y="789.20" width="2.70" height="2.70"/><rect x="558.45" y="792.30" width="2.70" height="2.70"/></g>
<rect x="536.20" y="774.20" width="31.50" height="24.60" fill="none" stroke="#231f20" stroke-width="4.0" rx="0.4"/>
<text transform="translate(584.90,698.10) scale(0.921,1)" font-size="25.6" fill="#231f20">AIRmin</text>
<text x="662.30" y="686.60" font-size="18.6" fill="#231f20">RR</text>
<text transform="translate(584.90,731.90) scale(0.921,1)" font-size="25.6" fill="#231f20">AIRmin</text>
<text x="662.30" y="720.40" font-size="18.6" fill="#231f20">SS</text>
<text transform="translate(584.90,765.40) scale(0.921,1)" font-size="25.6" fill="#231f20">AIRmin</text>
<text x="662.30" y="753.90" font-size="18.6" fill="#231f20">RR</text>
<text x="688.30" y="765.40" font-size="24.7" fill="#231f20">C</text>
<text transform="translate(584.90,798.70) scale(0.921,1)" font-size="25.6" fill="#231f20">AIRmin</text>
<text x="662.30" y="787.20" font-size="18.6" fill="#231f20">SS</text>
<text x="688.30" y="798.70" font-size="24.7" fill="#231f20">C</text>
<line x1="874.00" y1="668.70" x2="874.00" y2="966.00" stroke="#231f20" stroke-width="2.6" />
<line x1="864.50" y1="957.10" x2="874.00" y2="957.10" stroke="#231f20" stroke-width="2.6" />
<text x="863.00" y="964.80" font-size="21.2" font-weight="bold" text-anchor="end" fill="#231f20" >0</text>
<line x1="864.50" y1="899.68" x2="874.00" y2="899.68" stroke="#231f20" stroke-width="2.6" />
<text x="863.00" y="907.38" font-size="21.2" font-weight="bold" text-anchor="end" fill="#231f20" >20</text>
<line x1="864.50" y1="842.26" x2="874.00" y2="842.26" stroke="#231f20" stroke-width="2.6" />
<text x="863.00" y="849.96" font-size="21.2" font-weight="bold" text-anchor="end" fill="#231f20" >40</text>
<line x1="864.50" y1="784.84" x2="874.00" y2="784.84" stroke="#231f20" stroke-width="2.6" />
<text x="863.00" y="792.54" font-size="21.2" font-weight="bold" text-anchor="end" fill="#231f20" >60</text>
<line x1="864.50" y1="727.42" x2="874.00" y2="727.42" stroke="#231f20" stroke-width="2.6" />
<text x="863.00" y="735.12" font-size="21.2" font-weight="bold" text-anchor="end" fill="#231f20" >80</text>
<line x1="864.50" y1="670.00" x2="874.00" y2="670.00" stroke="#231f20" stroke-width="2.6" />
<text x="863.00" y="677.70" font-size="21.2" font-weight="bold" text-anchor="end" fill="#231f20" >100</text>
<line x1="864.50" y1="957.10" x2="1304.70" y2="957.10" stroke="#231f20" stroke-width="2.6" />
<line x1="935.45" y1="957.10" x2="935.45" y2="965.80" stroke="#231f20" stroke-width="2.4" />
<line x1="996.90" y1="957.10" x2="996.90" y2="965.80" stroke="#231f20" stroke-width="2.4" />
<line x1="1058.35" y1="957.10" x2="1058.35" y2="965.80" stroke="#231f20" stroke-width="2.4" />
<line x1="1119.80" y1="957.10" x2="1119.80" y2="965.80" stroke="#231f20" stroke-width="2.4" />
<line x1="1181.25" y1="957.10" x2="1181.25" y2="965.80" stroke="#231f20" stroke-width="2.4" />
<line x1="1242.70" y1="957.10" x2="1242.70" y2="965.80" stroke="#231f20" stroke-width="2.4" />
<line x1="1304.15" y1="957.10" x2="1304.15" y2="965.80" stroke="#231f20" stroke-width="2.4" />
<text x="874.00" y="988.20" font-size="21.2" font-weight="bold" text-anchor="middle" fill="#231f20" >0</text>
<text x="935.45" y="988.20" font-size="21.2" font-weight="bold" text-anchor="middle" fill="#231f20" >1</text>
<text x="996.90" y="988.20" font-size="21.2" font-weight="bold" text-anchor="middle" fill="#231f20" >2</text>
<text x="1058.35" y="988.20" font-size="21.2" font-weight="bold" text-anchor="middle" fill="#231f20" >3</text>
<text x="1119.80" y="988.20" font-size="21.2" font-weight="bold" text-anchor="middle" fill="#231f20" >4</text>
<text x="1181.25" y="988.20" font-size="21.2" font-weight="bold" text-anchor="middle" fill="#231f20" >5</text>
<text x="1242.70" y="988.20" font-size="21.2" font-weight="bold" text-anchor="middle" fill="#231f20" >6</text>
<text x="1304.15" y="988.20" font-size="21.2" font-weight="bold" text-anchor="middle" fill="#231f20" >7</text>
<text x="1089.50" y="1020.90" font-size="23.5" font-weight="bold" text-anchor="middle" fill="#231f20" >Days</text>
<text transform="translate(815.60,813.00) rotate(-90)" font-size="23.5" font-weight="bold" text-anchor="middle" fill="#231f20">% Survival</text>
<line x1="874.00" y1="670.00" x2="1304.15" y2="670.00" stroke="#231f20" stroke-width="1.6" />
<polyline points="1181.25,670.00 1242.70,717.86 1304.15,717.86" fill="none" stroke="#231f20" stroke-width="2.8" stroke-linejoin="round" />
<rect x="928.20" y="662.25" width="14.50" height="14.50" fill="#231f20" stroke="none" stroke-width="0"/>
<rect x="989.65" y="662.25" width="14.50" height="14.50" fill="#231f20" stroke="none" stroke-width="0"/>
<rect x="1051.10" y="662.25" width="14.50" height="14.50" fill="#231f20" stroke="none" stroke-width="0"/>
<rect x="1112.55" y="662.25" width="14.50" height="14.50" fill="#231f20" stroke="none" stroke-width="0"/>
<rect x="1174.00" y="662.25" width="14.50" height="14.50" fill="#231f20" stroke="none" stroke-width="0"/>
<rect x="1235.45" y="662.25" width="14.50" height="14.50" fill="#231f20" stroke="none" stroke-width="0"/>
<rect x="1296.90" y="662.25" width="14.50" height="14.50" fill="#231f20" stroke="none" stroke-width="0"/>
<rect x="1236.85" y="712.01" width="11.70" height="11.70" fill="#231f20" stroke="none" stroke-width="0"/>
<rect x="1298.30" y="712.01" width="11.70" height="11.70" fill="#231f20" stroke="none" stroke-width="0"/>
<path d="M1237.50,671.2 l1.5,0 l-1.5,2.4 z M1246.40,671.2 l1.5,0 l0,2.4 z" fill="#fff"/>
<path d="M1298.95,671.2 l1.5,0 l-1.5,2.4 z M1307.85,671.2 l1.5,0 l0,2.4 z" fill="#fff"/>
<line x1="1333.90" y1="689.40" x2="1365.30" y2="689.40" stroke="#231f20" stroke-width="2.6" />
<polygon points="1344.05,683.55 1355.15,683.55 1349.60,695.25" fill="#231f20" stroke="none" stroke-width="0" stroke-linejoin="miter"/>
<line x1="1333.90" y1="722.20" x2="1365.30" y2="722.20" stroke="#231f20" stroke-width="2.6" />
<rect x="1343.70" y="716.30" width="11.80" height="11.80" fill="#231f20" stroke="none" stroke-width="0"/>
<line x1="1335.5" y1="759.2" x2="1364" y2="759.2" stroke="#231f20" stroke-width="2.6" stroke-dasharray="3.2 4.5" stroke-linecap="round"/>
<polygon points="1343.55,752.30 1355.05,752.30 1349.30,764.90" fill="#fff" stroke="#231f20" stroke-width="2.8" stroke-linejoin="miter"/>
<line x1="1335.5" y1="792.7" x2="1364" y2="792.7" stroke="#231f20" stroke-width="2.6" stroke-dasharray="3.2 4.5" stroke-linecap="round"/>
<rect x="1343.70" y="787.00" width="11.50" height="11.50" fill="#fff" stroke="#231f20" stroke-width="2.5"/>
<line x1="1343.50" y1="792.70" x2="1347.00" y2="792.70" stroke="#231f20" stroke-width="2.6" />
<text transform="translate(1381.70,705.90) scale(0.907,1)" font-size="25.6" fill="#231f20">AIRmin</text>
<text x="1457.60" y="694.40" font-size="18.6" fill="#231f20">RR</text>
<text transform="translate(1381.70,738.50) scale(0.907,1)" font-size="25.6" fill="#231f20">AIRmin</text>
<text x="1457.60" y="727.00" font-size="18.6" fill="#231f20">SS</text>
<text transform="translate(1381.70,771.90) scale(0.907,1)" font-size="25.6" fill="#231f20">AIRmin</text>
<text x="1457.60" y="760.40" font-size="18.6" fill="#231f20">RR</text>
<text x="1483.10" y="771.90" font-size="24.7" fill="#231f20">C</text>
<text transform="translate(1381.70,804.70) scale(0.907,1)" font-size="25.6" fill="#231f20">AIRmin</text>
<text x="1457.60" y="793.20" font-size="18.6" fill="#231f20">SS</text>
<text x="1483.10" y="804.70" font-size="24.7" fill="#231f20">C</text>
</svg></body></html>
